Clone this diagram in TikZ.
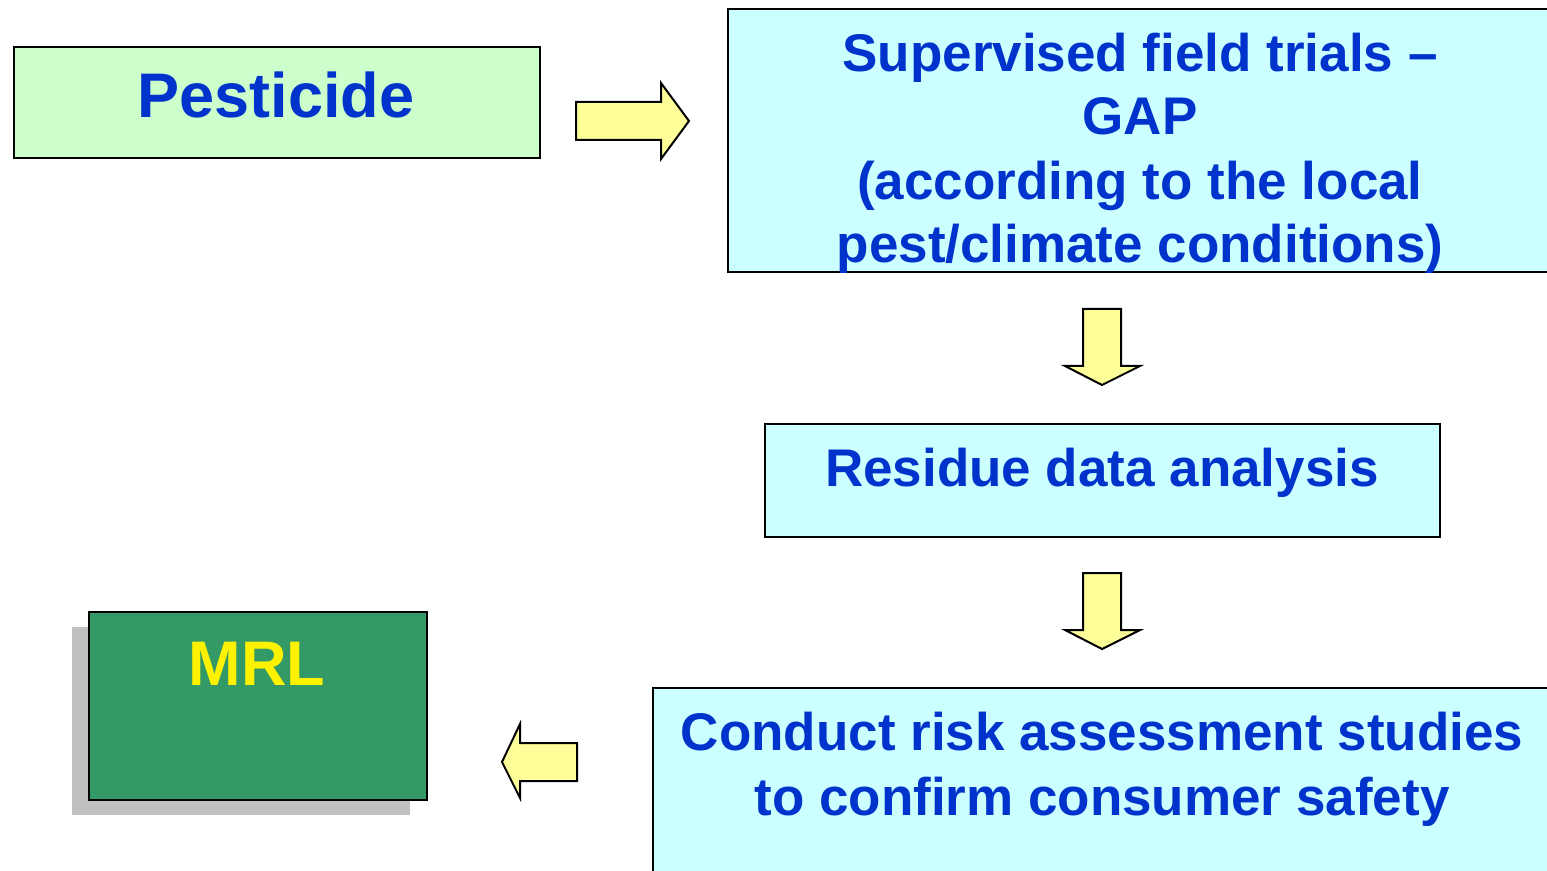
\documentclass[tikz,border=0pt]{standalone}
\usepackage{fontspec}
\setmainfont{Liberation Sans}
\definecolor{txtblue}{RGB}{0,51,204}
\definecolor{pgreen}{RGB}{204,255,204}
\definecolor{pcyan}{RGB}{204,255,255}
\definecolor{arrowyellow}{RGB}{255,255,153}
\definecolor{mrlgreen}{RGB}{51,153,102}
\definecolor{shadowgray}{RGB}{192,192,192}
\begin{document}
\begin{tikzpicture}[x=0.5pt,y=-0.5pt,
  box/.style={draw=black, line width=1pt, inner sep=0pt, anchor=north west},
  btext/.style={inner sep=0pt, anchor=base, text=txtblue, font=\bfseries\fontsize{26.5pt}{32pt}\selectfont, align=center},
  bigtext/.style={inner sep=0pt, anchor=base, font=\bfseries\fontsize{31.5pt}{38pt}\selectfont},
  blockarrow/.style={draw=black, line width=1pt, fill=arrowyellow, line join=miter}]
\useasboundingbox (0,0) rectangle (1547,871);
\fill[white] (0,0) rectangle (1547,871);
\clip (0,0) rectangle (1547,871);
% boxes
\node[box, fill=pgreen, minimum width=263pt, minimum height=55.5pt] (pest) at (13,46) {};
\node[box, fill=pcyan, minimum width=416.5pt, minimum height=131.5pt] (trials) at (727,8) {};
\node[box, fill=pcyan, minimum width=337.5pt, minimum height=56.5pt] (resid) at (764,423) {};
\node[box, fill=pcyan, minimum width=454pt, minimum height=101.5pt] (risk) at (652,687) {};
\node[fill=shadowgray, inner sep=0pt, anchor=north west, minimum width=169pt, minimum height=94pt] (shadow) at (72,627) {};
\node[box, fill=mrlgreen, minimum width=169pt, minimum height=94pt] (mrl) at (88,611) {};
% texts
\node[bigtext, text=txtblue] (pestt) at (276,118) {Pesticide};
\node[btext] (trialst1) at (1140,72) {Supervised field trials –};
\node[btext] (trialst2) at (1140,135) {GAP};
\node[btext] (trialst3) at (1140,200) {(according to the local};
\node[btext] (trialst4) at (1140,263) {pest/climate conditions)};
\node[btext] (residt) at (1102,487) {Residue data analysis};
\node[btext] (riskt1) at (1102,750) {Conduct risk assessment studies};
\node[btext] (riskt2) at (1102,815) {to confirm consumer safety};
\node[bigtext, text=yellow] (mrlt) at (257,685) {MRL};
% block arrows
\draw[blockarrow] (576,102) -- (661,102) -- (661,83) -- (689,121) -- (661,159) -- (661,140) -- (576,140) -- cycle;
\draw[blockarrow] (1083,309) -- (1121,309) -- (1121,366) -- (1140,366) -- (1102,385) -- (1065,366) -- (1083,366) -- cycle;
\draw[blockarrow] (1083,573) -- (1121,573) -- (1121,630) -- (1140,630) -- (1102,649) -- (1065,630) -- (1083,630) -- cycle;
\draw[blockarrow] (577,743) -- (520,743) -- (520,724) -- (502,762) -- (520,798) -- (520,781) -- (577,781) -- cycle;
\end{tikzpicture}
\end{document}
